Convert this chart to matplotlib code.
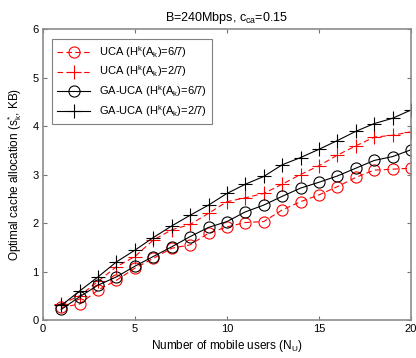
import matplotlib
matplotlib.use("Agg")
import matplotlib.pyplot as plt

plt.rcParams["font.family"] = ["Liberation Sans", "DejaVu Sans"]
plt.rcParams["mathtext.fontset"] = "custom"
plt.rcParams["mathtext.rm"] = "Liberation Sans"
plt.rcParams["mathtext.it"] = "Liberation Sans"

users = list(range(1, 21))
uca_67 = [0.26, 0.33, 0.62, 0.82, 1.07, 1.27, 1.48, 1.55, 1.79, 1.92,
          2.01, 2.03, 2.27, 2.44, 2.58, 2.75, 2.94, 3.09, 3.11, 3.13]
uca_27 = [0.33, 0.50, 0.80, 1.10, 1.31, 1.65, 1.86, 1.97, 2.20, 2.44,
          2.52, 2.61, 2.80, 3.00, 3.18, 3.40, 3.59, 3.77, 3.81, 3.88]
ga_67 = [0.22, 0.48, 0.72, 0.89, 1.11, 1.31, 1.51, 1.72, 1.91, 2.03,
         2.23, 2.37, 2.55, 2.72, 2.84, 2.97, 3.13, 3.29, 3.37, 3.51]
ga_27 = [0.30, 0.60, 0.89, 1.20, 1.44, 1.70, 1.94, 2.16, 2.37, 2.61,
         2.80, 2.96, 3.20, 3.35, 3.52, 3.70, 3.89, 4.05, 4.16, 4.33]

fig = plt.figure(figsize=(4.16, 3.58), dpi=100)
ax = fig.add_axes([0.103, 0.106, 0.885, 0.813])

ax.plot(users, uca_67, "r--", marker="o", mfc="none", ms=8, lw=0.8, mew=0.8,
        dashes=(5, 3), label="UCA (H$^{k}$(A$_{k}$)=6/7)")
ax.plot(users, uca_27, "r--", marker="+", ms=10, lw=0.8, mew=0.8,
        dashes=(5, 3), label="UCA (H$^{k}$(A$_{k}$)=2/7)")
ax.plot(users, ga_67, "k-", marker="o", mfc="none", ms=8, lw=0.8, mew=0.8,
        label="GA-UCA (H$^{k}$(A$_{k}$)=6/7)")
ax.plot(users, ga_27, "k-", marker="+", ms=10, lw=0.8, mew=0.8,
        label="GA-UCA (H$^{k}$(A$_{k}$)=2/7)")

ax.set_xlim(0, 20)
ax.set_ylim(0, 6)
ax.set_xticks([0, 5, 10, 15, 20])
ax.set_yticks(range(0, 7))
ax.tick_params(direction="in", length=3, labelsize=8, top=True, right=True,
               color="0.45", pad=3)
for s in ax.spines.values():
    s.set_color("0.55")
    s.set_linewidth(1.2)

ax.set_title("B=240Mbps, c$_{ca}$=0.15", fontsize=9, pad=6)
ax.set_xlabel("Number of mobile users (N$_{U}$)", fontsize=8.5, labelpad=3)
ax.set_ylabel("Optimal cache allocation (s$_{k}^{*}$, KB)", fontsize=8.5, labelpad=6)

leg = ax.legend(loc="upper left", fontsize=8, fancybox=False, framealpha=1,
                edgecolor="0.5", borderpad=0.45, labelspacing=0.35,
                handlelength=3.0, bbox_to_anchor=(0.01, 0.985))
leg.get_frame().set_linewidth(0.8)

fig.savefig("out.png", dpi=100)
